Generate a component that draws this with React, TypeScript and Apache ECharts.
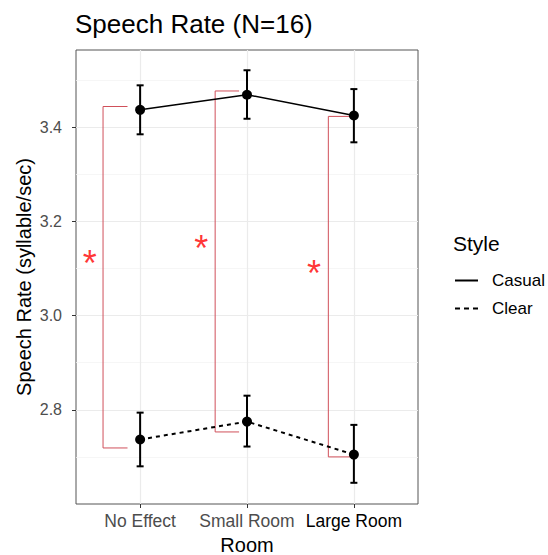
import React, { useEffect, useRef } from 'react';
import * as echarts from 'echarts';

const rooms = ['No Effect', 'Small Room', 'Large Room'];
const roomPos = [1, 2, 3];
const roomLabelColors = ['#4d4d4d', '#4d4d4d', '#000000'];
const casualMean = [3.437, 3.469, 3.425];
const casualLow = [3.385, 3.418, 3.368];
const casualHigh = [3.489, 3.521, 3.481];
const clearMean = [2.737, 2.775, 2.705];
const clearLow = [2.68, 2.722, 2.645];
const clearHigh = [2.794, 2.83, 2.768];
const bracketLeft = [0.653, 1.702, 2.761];
const bracketRight = [0.882, 1.926, 2.984];
const bracketTop = [3.444, 3.477, 3.423];
const bracketBottom = [2.719, 2.753, 2.7];
const starX = [0.528, 1.572, 2.628];
const starY = [3.124, 3.156, 3.103];
const yMajor = [2.8, 3.0, 3.2, 3.4];
const yMinor = [2.7, 2.9, 3.1, 3.3, 3.5];

const FONT = 'Liberation Sans';

export default function App() {
  const ref = useRef<HTMLDivElement>(null);
  useEffect(() => {
    if (!ref.current) return;
    const chart = echarts.init(ref.current, null, { renderer: 'svg' });

    const errSeries = (lo: number[], hi: number[]) => ({
      type: 'custom',
      z: 3,
      silent: true,
      data: roomPos.map((x, i) => [x, lo[i], hi[i]]),
      encode: { x: 0, y: [1, 2] },
      renderItem: (params: any, api: any) => {
        const x = api.value(0);
        const top = api.coord([x, api.value(2)]);
        const bot = api.coord([x, api.value(1)]);
        const w = 3.5;
        const st = { stroke: '#000', lineWidth: 2 };
        return {
          type: 'group',
          children: [
            { type: 'line', shape: { x1: top[0], y1: top[1], x2: bot[0], y2: bot[1] }, style: st },
            { type: 'line', shape: { x1: top[0] - w, y1: top[1], x2: top[0] + w, y2: top[1] }, style: st },
            { type: 'line', shape: { x1: bot[0] - w, y1: bot[1], x2: bot[0] + w, y2: bot[1] }, style: st },
          ],
        };
      },
    });

    const bracketSeries = roomPos.map((_, i) => ({
      type: 'line',
      silent: true,
      z: 1,
      symbol: 'none',
      lineStyle: { color: '#d0505a', width: 1 },
      data: [
        [bracketRight[i], bracketTop[i]],
        [bracketLeft[i], bracketTop[i]],
        [bracketLeft[i], bracketBottom[i]],
        [bracketRight[i], bracketBottom[i]],
      ],
    }));

    chart.setOption({
      animation: false,
      textStyle: { fontFamily: FONT },
      title: [
        {
          text: 'Speech Rate (N=16)',
          left: 70,
          top: 6,
          textStyle: { fontFamily: FONT, fontSize: 26, fontWeight: 'normal', color: '#000' },
        },
        {
          text: 'Style',
          left: 448,
          top: 228,
          textStyle: { fontFamily: FONT, fontSize: 21, fontWeight: 'normal', color: '#000' },
        },
      ],
      legend: {
        orient: 'vertical',
        left: 450,
        top: 267,
        itemWidth: 23,
        itemHeight: 2,
        itemGap: 11,
        selectedMode: false,
        textStyle: { fontFamily: FONT, fontSize: 17, color: '#000', padding: [0, 0, 0, 9] },
        data: [
          { name: 'Casual', icon: 'path://M0,0h23v2h-23z' },
          { name: 'Clear', icon: 'path://M0,0h5v2h-5z M9,0h5v2h-5z M18,0h5v2h-5z' },
        ],
      },
      grid: {
        left: 76,
        top: 50,
        right: 130,
        bottom: 51,
        show: true,
        outerBoundsMode: 'none',
        containLabel: false,
        borderColor: '#555555',
        borderWidth: 1,
        backgroundColor: 'transparent',
      },
      xAxis: {
        type: 'value',
        min: 0.4,
        max: 3.6,
        name: 'Room',
        nameLocation: 'middle',
        nameGap: 31,
        nameMoveOverlap: false,
        nameTextStyle: { fontFamily: FONT, fontSize: 20, color: '#000' },
        axisLine: { show: false },
        axisTick: { show: true, customValues: roomPos, length: 4, lineStyle: { color: '#333333' } },
        axisLabel: {
          customValues: roomPos,
          margin: 8,
          fontSize: 17.5,
          fontFamily: FONT,
          color: (v: number) => roomLabelColors[Math.round(v) - 1] || '#4d4d4d',
          formatter: (v: number) => rooms[Math.round(v) - 1] || '',
        },
        splitLine: { show: true, lineStyle: { color: '#ebebeb', width: 1.2 } },
      },
      yAxis: [
        {
          type: 'value',
          min: 2.6,
          max: 3.564,
          name: 'Speech Rate (syllable/sec)',
          nameLocation: 'middle',
          nameGap: 42,
          nameMoveOverlap: false,
          nameTextStyle: { fontFamily: FONT, fontSize: 20, color: '#000' },
          axisLine: { show: false },
          axisTick: { show: true, customValues: yMajor, length: 4, lineStyle: { color: '#333333' } },
          axisLabel: {
            customValues: yMajor,
            margin: 14,
            fontSize: 16,
            fontFamily: FONT,
            color: '#4d4d4d',
            formatter: (v: number) => v.toFixed(1),
          },
          splitLine: { show: true, lineStyle: { color: '#ebebeb', width: 1.2 } },
        },
        {
          type: 'value',
          min: 2.6,
          max: 3.564,
          position: 'left',
          axisLine: { show: false },
          axisTick: { show: false, customValues: yMinor },
          axisLabel: { show: false, customValues: yMinor },
          splitLine: { show: true, lineStyle: { color: '#f4f4f4', width: 0.8 } },
        },
      ],
      series: [
        {
          name: 'Casual',
          type: 'line',
          z: 4,
          silent: true,
          data: roomPos.map((x, i) => [x, casualMean[i]]),
          symbol: 'circle',
          symbolSize: 10,
          itemStyle: { color: '#000' },
          lineStyle: { color: '#000', width: 1.5, type: 'solid' },
        },
        {
          name: 'Clear',
          type: 'line',
          z: 4,
          silent: true,
          data: roomPos.map((x, i) => [x, clearMean[i]]),
          symbol: 'circle',
          symbolSize: 10,
          itemStyle: { color: '#000' },
          lineStyle: { color: '#000', width: 2, type: [4, 4] },
        },
        errSeries(casualLow, casualHigh),
        errSeries(clearLow, clearHigh),
        ...bracketSeries,
        {
          type: 'scatter',
          silent: true,
          z: 5,
          symbolSize: 0,
          data: starX.map((x, i) => [x, starY[i]]),
          label: {
            show: true,
            position: 'inside',
            formatter: '*',
            fontFamily: FONT,
            fontSize: 36,
            color: '#ff0000',
            offset: [0, 6],
          },
        },
      ],
    });
    return () => chart.dispose();
  }, []);
  return <div ref={ref} style={{ width: 548, height: 555, position: 'absolute', left: 0, top: 0 }} />;
}
